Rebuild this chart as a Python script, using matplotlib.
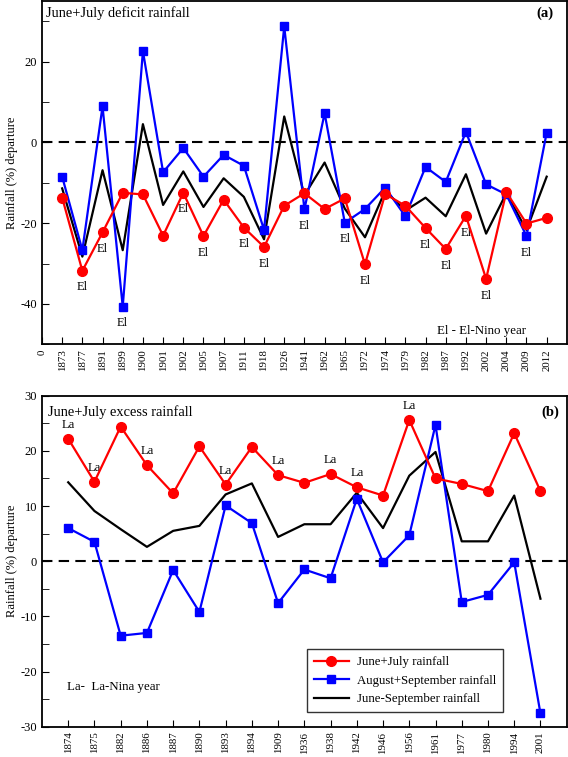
import numpy as np
import matplotlib
matplotlib.use("Agg")
from matplotlib import pyplot as plt

plt.rcParams['font.family'] = ['Liberation Serif', 'DejaVu Serif']
plt.rcParams['font.size'] = 9
plt.rcParams['axes.unicode_minus'] = False

# (a) June+July deficit years
years_a = ['1873', '1877', '1891', '1899', '1900', '1901', '1902', '1905', '1907',
           '1911', '1918', '1926', '1941', '1962', '1965', '1972', '1974', '1979',
           '1982', '1987', '1992', '2002', '2004', '2009', '2012']
jj_a = [-13.7, -31.8, -22.3, -12.5, -12.9, -23.1, -12.5, -23.2, -14.2, -21.1, -25.9,
        -15.7, -12.6, -16.5, -13.9, -30.2, -12.8, -15.7, -21.2, -26.4, -18.2, -33.8,
        -12.3, -20.1, -18.7]
as_a = [-8.5, -26.7, 8.9, -40.7, 22.6, -7.4, -1.4, -8.5, -3.1, -5.8, -21.7, 28.7,
        -16.6, 7.2, -19.9, -16.5, -11.2, -18.3, -6.1, -9.8, 2.6, -10.4, -12.9, -23.2, 2.4]
js_a = [-11.4, -28.3, -6.9, -26.7, 4.5, -15.5, -7.2, -16.0, -8.9, -13.5, -24.0, 6.4,
        -13.1, -5.0, -16.4, -23.5, -12.0, -16.9, -13.7, -18.3, -7.9, -22.6, -12.6,
        -21.7, -8.5]
el_years = ['1877', '1891', '1899', '1902', '1905', '1911', '1918', '1941', '1965',
            '1972', '1982', '1987', '1992', '2002', '2009']

# (b) June+July excess years
years_b = ['1874', '1875', '1882', '1886', '1887', '1890', '1893', '1894', '1909',
           '1936', '1938', '1942', '1946', '1956', '1961', '1977', '1980', '1994', '2001']
jj_b = [22.2, 14.4, 24.4, 17.4, 12.3, 20.8, 13.9, 20.7, 15.6, 14.2, 15.8, 13.4, 11.9,
        25.6, 15.0, 14.0, 12.7, 23.2, 12.7]
as_b = [6.0, 3.5, -13.5, -13.0, -1.6, -9.2, 10.1, 6.9, -7.6, -1.5, -3.1, 11.3, -0.2,
        4.7, 24.7, -7.4, -6.1, -0.2, -27.6]
js_b = [14.3, 9.1, 5.8, 2.6, 5.5, 6.4, 12.1, 14.1, 4.4, 6.7, 6.7, 12.4, 6.0, 15.5,
        19.8, 3.6, 3.6, 11.9, -6.8]
la_years = ['1874', '1875', '1886', '1893', '1909', '1938', '1942', '1956']

fig = plt.figure(figsize=(5.68, 7.57), dpi=100)
ax1 = fig.add_axes([0.0739, 0.5452, 0.9241, 0.4535])
ax2 = fig.add_axes([0.0739, 0.0400, 0.9238, 0.4373])


def draw(ax, years, jj, asep, js):
    x = np.arange(1, len(years) + 1)
    ax.axhline(0, color='black', ls=(0, (5, 3)), lw=1.5, zorder=1)
    ax.plot(x, js, color='black', lw=1.6, label='June-September rainfall', zorder=2)
    ax.plot(x, asep, color='blue', lw=1.6, marker='s', ms=5.5,
            label='August+September rainfall', zorder=3)
    ax.plot(x, jj, color='red', lw=1.6, marker='o', ms=7,
            label='June+July rainfall', zorder=4)
    ax.set_xlim(0, len(years) + 1)
    ax.set_ylabel('Rainfall (%) departure', fontsize=9, labelpad=2)
    ax.tick_params(direction='in', which='both', top=False, right=False)
    ax.tick_params(axis='y', which='major', length=5, labelsize=9)
    ax.tick_params(axis='y', which='minor', length=5)
    ax.tick_params(axis='x', length=5, labelsize=7.8, rotation=90)
    for s in ax.spines.values():
        s.set_linewidth(1.3)
    return x


x1 = draw(ax1, years_a, jj_a, as_a, js_a)
ax1.set_ylim(-50, 35)
ax1.set_yticks([-40, -20, 0, 20])
ax1.set_yticks(np.arange(-50, 35, 10), minor=True)
ax1.set_xticks(np.concatenate([[0], x1]))
ax1.set_xticklabels(['0'] + years_a)
ax1.text(0.007, 0.985, 'June+July deficit rainfall', transform=ax1.transAxes,
         fontsize=10.4, va='top', ha='left')
ax1.text(0.975, 0.985, '(a)', transform=ax1.transAxes, fontsize=10.5,
         fontweight='bold', va='top', ha='right')
ax1.text(0.838, 0.04, 'El - El-Nino year', transform=ax1.transAxes,
         fontsize=9.3, va='center', ha='center')
for yr in el_years:
    i = years_a.index(yr)
    low = min(jj_a[i], as_a[i])
    ax1.annotate('El', (x1[i], low), xytext=(0, -12), textcoords='offset points',
                 ha='center', va='center', fontsize=9)

x2 = draw(ax2, years_b, jj_b, as_b, js_b)
ax2.set_ylim(-30, 30)
ax2.set_yticks(np.arange(-30, 31, 10))
ax2.set_yticks(np.arange(-30, 31, 5), minor=True)
ax2.set_xticks(x2)
ax2.set_xticklabels(years_b)
ax2.text(0.012, 0.95, 'June+July excess rainfall', transform=ax2.transAxes,
         fontsize=10.4, va='center', ha='left')
ax2.text(0.985, 0.95, '(b)', transform=ax2.transAxes, fontsize=10.5,
         fontweight='bold', va='center', ha='right')
ax2.text(0.047, 0.12, 'La-  La-Nina year', transform=ax2.transAxes,
         fontsize=9.3, va='center', ha='left')
for yr in la_years:
    i = years_b.index(yr)
    ax2.annotate('La', (x2[i], jj_b[i]), xytext=(0, 10), textcoords='offset points',
                 ha='center', va='center', fontsize=9)

h, l = ax2.get_legend_handles_labels()
leg = ax2.legend(h[::-1], l[::-1], loc='upper left', bbox_to_anchor=(0.505, 0.235),
                 borderaxespad=0, fontsize=9.3, frameon=True, fancybox=False,
                 edgecolor='black', handlelength=2.7, borderpad=0.55,
                 labelspacing=0.5, handletextpad=0.6)
leg.get_frame().set_linewidth(1.0)

fig.savefig('out.png', dpi=100)
